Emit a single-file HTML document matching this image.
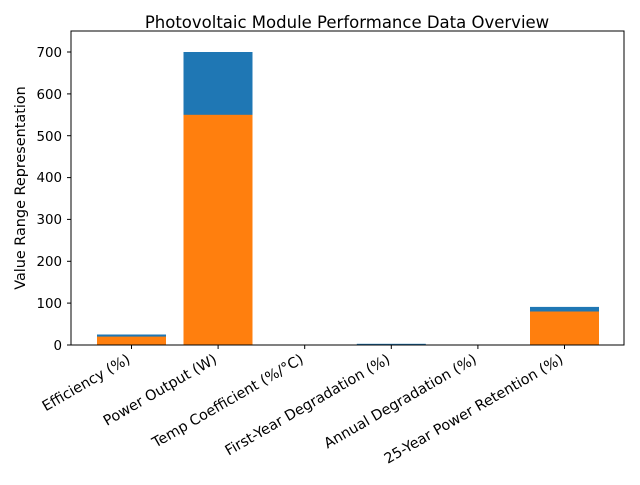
<!DOCTYPE html>
<html><head><meta charset="utf-8"><style>body{margin:0;background:#fff}</style></head><body>
<svg width="640" height="480" xmlns="http://www.w3.org/2000/svg" font-family="DejaVu Sans, Liberation Sans, sans-serif" font-size="14.4">
<rect width="640" height="480" fill="#fff"/>
<text x="347" y="28" text-anchor="middle" font-size="16.5">Photovoltaic Module Performance Data Overview</text>
<text transform="translate(25,188) rotate(-90)" text-anchor="middle">Value Range Representation</text>
<rect x="97" y="334.5" width="69" height="10.5" fill="#1f77b4"/>
<rect x="97" y="336.6" width="69" height="8.4" fill="#ff7f0e"/>
<rect x="183.5" y="52" width="69" height="293" fill="#1f77b4"/>
<rect x="183.5" y="114.8" width="69" height="230.2" fill="#ff7f0e"/>
<rect x="356.8" y="343.8" width="69" height="1.2" fill="#1f77b4"/>
<rect x="530" y="306.9" width="69" height="38.1" fill="#1f77b4"/>
<rect x="530" y="311.5" width="69" height="33.5" fill="#ff7f0e"/>
<rect x="71" y="31" width="553" height="314" fill="none" stroke="#000" stroke-width="1"/>
<g stroke="#000">
<line x1="71" x2="67" y1="345" y2="345"/><line x1="71" x2="67" y1="303.1" y2="303.1"/><line x1="71" x2="67" y1="261.3" y2="261.3"/><line x1="71" x2="67" y1="219.4" y2="219.4"/><line x1="71" x2="67" y1="177.6" y2="177.6"/><line x1="71" x2="67" y1="135.7" y2="135.7"/><line x1="71" x2="67" y1="93.9" y2="93.9"/><line x1="71" x2="67" y1="52" y2="52"/>
<line x1="131.5" x2="131.5" y1="345" y2="349"/><line x1="218.1" x2="218.1" y1="345" y2="349"/><line x1="304.7" x2="304.7" y1="345" y2="349"/><line x1="391.3" x2="391.3" y1="345" y2="349"/><line x1="477.9" x2="477.9" y1="345" y2="349"/><line x1="564.5" x2="564.5" y1="345" y2="349"/>
</g>
<g text-anchor="end" font-size="13.4">
<text x="62" y="350">0</text><text x="62" y="308">100</text><text x="62" y="266">200</text><text x="62" y="224">300</text><text x="62" y="182">400</text><text x="62" y="141">500</text><text x="62" y="99">600</text><text x="62" y="57">700</text>
</g>
<g text-anchor="end">
<text transform="translate(126,353) rotate(-30)" dy="10.5">Efficiency (%)</text>
<text transform="translate(212.6,353) rotate(-30)" dy="10.5">Power Output (W)</text>
<text transform="translate(299.2,353) rotate(-30)" dy="10.5">Temp Coefficient (%/°C)</text>
<text transform="translate(385.8,353) rotate(-30)" dy="10.5">First-Year Degradation (%)</text>
<text transform="translate(472.4,353) rotate(-30)" dy="10.5">Annual Degradation (%)</text>
<text transform="translate(559,353) rotate(-30)" dy="10.5">25-Year Power Retention (%)</text>
</g>
</svg>
</body></html>
